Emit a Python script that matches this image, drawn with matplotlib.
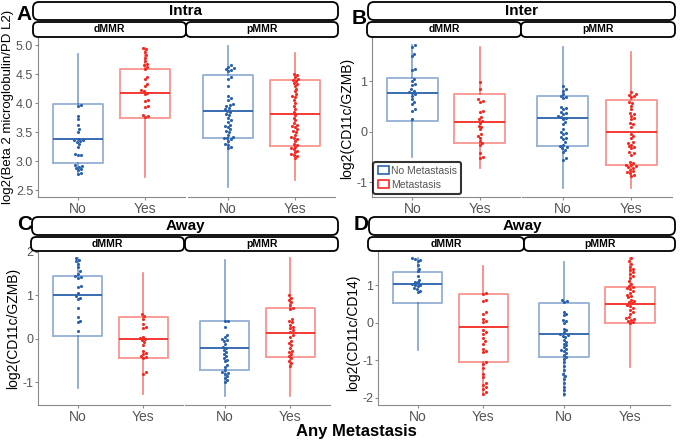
import matplotlib as mpl

mpl.use('Agg')
import matplotlib.pyplot as plt
import numpy as np
from matplotlib.patches import FancyBboxPatch, Patch

plt.rcParams['font.family'] = ['Liberation Sans', 'DejaVu Sans']

BLUE = '#2a62ad'
RED = '#f42a22'
groups = ['No', 'Yes']
facets = ['dMMR', 'pMMR']

# box stats: whisker low, q1, median, q3, whisker high
intra_d_no_box = [2.80, 2.96, 3.38, 3.98, 4.85]
intra_d_yes_box = [2.72, 3.75, 4.18, 4.58, 4.95]
intra_p_no_box = [2.55, 3.40, 3.87, 4.48, 4.98]
intra_p_yes_box = [2.67, 3.26, 3.81, 4.40, 4.87]
inter_d_no_box = [-0.50, 0.22, 0.78, 1.07, 1.72]
inter_d_yes_box = [-0.72, -0.22, 0.20, 0.76, 1.68]
inter_p_no_box = [-1.12, -0.28, 0.28, 0.72, 1.68]
inter_p_yes_box = [-1.12, -0.65, 0.00, 0.64, 1.58]
away_d_no_box = [-1.12, 0.06, 1.00, 1.45, 1.85]
away_d_yes_box = [-1.27, -0.43, 0.00, 0.50, 1.52]
away_p_no_box = [-1.32, -0.71, -0.20, 0.40, 1.82]
away_p_yes_box = [-1.32, -0.41, 0.13, 0.72, 1.85]
cd14_d_no_box = [-0.72, 0.52, 1.04, 1.37, 1.72]
cd14_d_yes_box = [-1.92, -1.05, -0.10, 0.78, 1.52]
cd14_p_no_box = [-1.95, -0.90, -0.30, 0.52, 1.62]
cd14_p_yes_box = [-1.18, 0.00, 0.50, 0.95, 1.72]

# points
intra_d_no = [3.97, 3.95, 3.78, 3.72, 3.62, 3.55, 3.50, 3.38, 3.37, 3.36, 3.35, 3.33, 3.30,
              3.25, 3.12, 3.11, 3.10, 2.93, 2.91, 2.90, 2.88, 2.86, 2.84, 2.80, 2.78]
intra_d_yes = [4.95, 4.93, 4.88, 4.83, 4.78, 4.72, 4.68, 4.65, 4.62, 4.58, 4.45, 4.42, 4.33,
               4.30, 4.22, 4.20, 4.18, 4.15, 4.05, 4.03, 3.95, 3.93, 3.80, 3.78, 3.76]
intra_p_no = [4.65, 4.62, 4.60, 4.58, 4.57, 4.55, 4.45, 4.42, 4.30, 4.12, 4.08, 4.05, 3.98,
              3.97, 3.95, 3.92, 3.90, 3.87, 3.85, 3.82, 3.80, 3.75, 3.70, 3.68, 3.62, 3.60,
              3.58, 3.55, 3.52, 3.50, 3.45, 3.42, 3.40, 3.40, 3.38, 3.35, 3.30, 3.28, 3.25, 3.22]
intra_p_yes = [4.50, 4.48, 4.45, 4.42, 4.40, 4.38, 4.35, 4.33, 4.30, 4.25, 4.20, 4.15, 4.12,
               4.10, 4.05, 4.00, 3.95, 3.90, 3.85, 3.80, 3.75, 3.70, 3.65, 3.62, 3.60, 3.58,
               3.55, 3.52, 3.50, 3.45, 3.42, 3.40, 3.38, 3.35, 3.30, 3.28, 3.25, 3.22, 3.20,
               3.18, 3.15, 3.12, 3.10, 3.08, 3.05]
inter_d_no = [1.72, 1.68, 1.55, 1.50, 1.25, 1.22, 1.05, 1.00, 0.95, 0.92, 0.85, 0.82, 0.80,
              0.78, 0.75, 0.72, 0.65, 0.60, 0.55, 0.45, 0.42, 0.25]
inter_d_yes = [0.98, 0.85, 0.65, 0.62, 0.60, 0.42, 0.40, 0.30, 0.25, 0.22, 0.18, 0.12, 0.10,
               0.05, -0.05, -0.08, -0.12, -0.18, -0.22, -0.25, -0.42, -0.50, -0.52]
inter_p_no = [0.90, 0.85, 0.82, 0.75, 0.72, 0.70, 0.68, 0.50, 0.48, 0.45, 0.40, 0.38, 0.35,
              0.32, 0.30, 0.28, 0.25, 0.20, 0.15, 0.05, 0.00, -0.02, -0.05, -0.10, -0.12,
              -0.15, -0.20, -0.25, -0.28, -0.30, -0.32, -0.35, -0.40, -0.52, -0.55]
inter_p_yes = [0.80, 0.76, 0.74, 0.72, 0.70, 0.60, 0.58, 0.52, 0.45, 0.38, 0.35, 0.32, 0.28,
               0.25, 0.18, 0.15, 0.10, -0.05, -0.08, -0.12, -0.20, -0.22, -0.25, -0.28, -0.30,
               -0.32, -0.40, -0.42, -0.45, -0.60, -0.62, -0.65, -0.66, -0.68, -0.70, -0.72,
               -0.75, -0.78, -0.80, -0.82, -0.85, -0.88]
away_d_no = [1.85, 1.82, 1.78, 1.72, 1.65, 1.55, 1.50, 1.45, 1.42, 1.40, 1.22, 1.20, 1.05,
             0.98, 0.95, 0.92, 0.70, 0.50, 0.42, 0.38, 0.18]
away_d_yes = [0.58, 0.52, 0.45, 0.35, 0.28, 0.25, 0.05, 0.02, 0.00, -0.02, -0.08, -0.15,
              -0.28, -0.32, -0.35, -0.40, -0.42, -0.45, -0.75, -0.80]
away_p_no = [0.42, 0.40, 0.28, 0.10, 0.05, 0.00, -0.02, -0.05, -0.12, -0.18, -0.20, -0.25,
             -0.30, -0.35, -0.40, -0.45, -0.48, -0.52, -0.60, -0.65, -0.72, -0.75, -0.78,
             -0.80, -0.85, -0.90, -0.95, -1.00]
away_p_yes = [1.00, 0.95, 0.90, 0.85, 0.78, 0.72, 0.68, 0.45, 0.42, 0.38, 0.32, 0.28, 0.25,
              0.20, 0.15, 0.10, 0.05, -0.05, -0.10, -0.15, -0.22, -0.28, -0.30, -0.35, -0.40,
              -0.45, -0.50, -0.55, -0.62]
cd14_d_no = [1.72, 1.70, 1.68, 1.65, 1.55, 1.45, 1.38, 1.25, 1.15, 1.10, 1.08, 1.05, 1.02,
             1.00, 0.98, 0.92, 0.90, 0.85, 0.82]
cd14_d_yes = [0.80, 0.78, 0.62, 0.58, 0.30, 0.25, 0.10, 0.05, 0.02, -0.20, -0.25, -0.30,
              -0.40, -0.48, -0.55, -0.70, -0.75, -0.78, -1.05, -1.10, -1.20, -1.35, -1.45,
              -1.60, -1.65, -1.70, -1.75, -1.85, -1.90]
cd14_p_no = [0.62, 0.58, 0.55, 0.30, 0.25, 0.20, 0.08, 0.05, 0.00, -0.15, -0.20, -0.25,
             -0.30, -0.32, -0.35, -0.38, -0.45, -0.50, -0.55, -0.60, -0.65, -0.70, -0.72,
             -0.75, -0.80, -0.85, -0.90, -0.95, -1.05, -1.15, -1.25, -1.35, -1.42, -1.50,
             -1.60, -1.70, -1.80, -1.90]
cd14_p_yes = [1.72, 1.65, 1.58, 1.50, 1.45, 1.40, 1.35, 1.30, 1.25, 1.20, 1.12, 1.05, 0.98,
              0.95, 0.92, 0.90, 0.85, 0.80, 0.75, 0.72, 0.68, 0.62, 0.58, 0.55, 0.52, 0.48,
              0.45, 0.40, 0.35, 0.30, 0.25, 0.15, 0.12, 0.10, 0.08, 0.05, 0.02, 0.00]

W, H = 680, 440
fig = plt.figure(figsize=(W / 100, H / 100), dpi=100)


def px_axes(x0, x1, y0, y1):
    return fig.add_axes([x0 / W, 1 - y1 / H, (x1 - x0) / W, (y1 - y0) / H])


def strip(x0, x1, y0, y1, text, size, r=6):
    box = FancyBboxPatch((x0 / 100, (H - y1) / 100), (x1 - x0) / 100, (y1 - y0) / 100,
                         boxstyle=f"round,pad=0,rounding_size={r / 100}",
                         transform=fig.dpi_scale_trans, facecolor='white',
                         edgecolor='black', lw=1.3, zorder=5)
    fig.patches.append(box)
    fig.text((x0 + x1) / 2 / W, 1 - (y0 + y1) / 2 / H, text, ha='center', va='center',
             fontsize=size, fontweight='bold', zorder=6)


def swarm(ax, xc, vals, d=3.1):
    pts = ax.transData.transform(np.column_stack([np.full(len(vals), xc), vals]))
    cx = pts[0, 0]
    ys = pts[:, 1]
    xs = np.zeros(len(vals))
    placed = []
    for i in np.argsort(ys):
        y = ys[i]
        near = [(a, b) for a, b in placed if abs(b - y) < d]
        cands = [0.0]
        for a, b in near:
            dx = np.sqrt(d * d - (b - y) ** 2)
            cands += [a + dx, a - dx]
        cands.sort(key=abs)
        for c in cands:
            if all((c - a) ** 2 + (y - b) ** 2 >= d * d - 1e-6 for a, b in near):
                break
        placed.append((c, y))
        xs[i] = c
    return ax.transData.inverted().transform(np.column_stack([cx + xs, ys]))[:, 0]


def draw_facet(ax, no_pts, yes_pts, no_box, yes_box, ylim, yticks, fmt, show_y):
    ax.set_xlim(0.4, 2.6)
    ax.set_ylim(*ylim)
    for pos, stats, pts, col in [(1, no_box, no_pts, BLUE), (2, yes_box, yes_pts, RED)]:
        lo, q1, med, q3, hi = stats
        ax.bxp([dict(whislo=lo, q1=q1, med=med, q3=q3, whishi=hi, fliers=[])],
               positions=[pos], widths=0.75, showcaps=False, manage_ticks=False,
               boxprops=dict(color=col, alpha=0.5, lw=1.3),
               whiskerprops=dict(color=col, alpha=0.6, lw=1.2),
               medianprops=dict(color=col, lw=1.3))
        xs = swarm(ax, pos, pts)
        ax.scatter(xs, pts, s=5, color=col, linewidths=0, zorder=3)
    ax.set_xticks([1, 2])
    ax.set_xticklabels(groups)
    for s in ['top', 'right']:
        ax.spines[s].set_visible(False)
    ax.spines['bottom'].set_color('#8a8a8a')
    ax.spines['left'].set_color('#8a8a8a')
    ax.tick_params(axis='x', length=2.5, color='#8a8a8a', labelcolor='#555555', labelsize=10, pad=1)
    if show_y:
        ax.set_yticks(yticks)
        ax.set_yticklabels([fmt % v for v in yticks])
        ax.tick_params(axis='y', length=2.5, color='#8a8a8a', labelcolor='#555555', labelsize=9, pad=1)
    else:
        ax.spines['left'].set_visible(False)
        ax.set_yticks([])


panels = [
    dict(letter='A', lxy=(24, 15), title='Intra', sx=(33, 338), sy=(2, 20), fy=(22, 37),
         fx=[(33, 186), (186, 338)], axx=[(38, 185), (188, 335)], ay=(37, 197),
         ylim=(2.38, 5.14), yticks=[2.5, 3.0, 3.5, 4.0, 4.5, 5.0], fmt='%.1f',
         ylabel='log2(Beta 2 microglobulin/PD L2)', yl=(8, 107), ylsize=9.5,
         data=[(intra_d_no, intra_d_yes, intra_d_no_box, intra_d_yes_box),
               (intra_p_no, intra_p_yes, intra_p_no_box, intra_p_yes_box)]),
    dict(letter='B', lxy=(359, 19), title='Inter', sx=(368, 675), sy=(2, 20), fy=(22, 37),
         fx=[(367, 521), (521, 675)], axx=[(372, 520), (522, 672)], ay=(37, 197),
         ylim=(-1.29, 1.88), yticks=[-1, 0, 1], fmt='%d',
         ylabel='log2(CD11c/GZMB)', yl=(347, 118), ylsize=10,
         data=[(inter_d_no, inter_d_yes, inter_d_no_box, inter_d_yes_box),
               (inter_p_no, inter_p_yes, inter_p_no_box, inter_p_yes_box)]),
    dict(letter='C', lxy=(25, 224), title='Away', sx=(32, 338), sy=(217, 235), fy=(237, 251),
         fx=[(31, 184), (185, 338)], axx=[(38, 183), (185, 330)], ay=(251, 405),
         ylim=(-1.52, 2.02), yticks=[-1, 0, 1, 2], fmt='%d',
         ylabel='log2(CD11c/GZMB)', yl=(13, 328), ylsize=10,
         data=[(away_d_no, away_d_yes, away_d_no_box, away_d_yes_box),
               (away_p_no, away_p_yes, away_p_no_box, away_p_yes_box)]),
    dict(letter='D', lxy=(361, 224), title='Away', sx=(369, 675), sy=(217, 235), fy=(237, 251),
         fx=[(368, 524), (524, 675)], axx=[(378, 523), (524, 670)], ay=(251, 405),
         ylim=(-2.19, 1.92), yticks=[-2, -1, 0, 1], fmt='%d',
         ylabel='log2(CD11c/CD14)', yl=(353, 333), ylsize=10,
         data=[(cd14_d_no, cd14_d_yes, cd14_d_no_box, cd14_d_yes_box),
               (cd14_p_no, cd14_p_yes, cd14_p_no_box, cd14_p_yes_box)]),
]

for p in panels:
    axes = []
    for k, (x0, x1) in enumerate(p['axx']):
        ax = px_axes(x0, x1, *p['ay'])
        no_pts, yes_pts, no_box, yes_box = p['data'][k]
        draw_facet(ax, no_pts, yes_pts, no_box, yes_box, p['ylim'], p['yticks'], p['fmt'], k == 0)
        axes.append(ax)
    strip(*p['sx'], *p['sy'], p['title'], 11)
    for (x0, x1), name in zip(p['fx'], facets):
        strip(x0, x1, *p['fy'], name, 7.5, r=5)
    fig.text(p['lxy'][0] / W, 1 - p['lxy'][1] / H, p['letter'], ha='center', va='center',
             fontsize=15, fontweight='bold')
    fig.text(p['yl'][0] / W, 1 - p['yl'][1] / H, p['ylabel'], rotation=90, ha='center',
             va='center', fontsize=p['ylsize'])
    if p['letter'] == 'B':
        handles = [Patch(facecolor='white', edgecolor=BLUE, lw=1.2),
                   Patch(facecolor='white', edgecolor=RED, lw=1.2)]
        leg = axes[0].legend(handles, ['No Metastasis', 'Metastasis'], loc='lower left',
                             bbox_to_anchor=(0.01, 0.02), fontsize=7.5, frameon=True,
                             fancybox=True, handlelength=1.1, handleheight=0.8,
                             handletextpad=0.2, borderpad=0.4, labelspacing=0.35,
                             labelcolor='#555555', borderaxespad=0)
        leg.get_frame().set_edgecolor('black')
        leg.get_frame().set_linewidth(1.5)

fig.text(356 / W, 1 - 431 / H, 'Any Metastasis', ha='center', va='center',
         fontsize=12, fontweight='bold')

fig.savefig('out.png', dpi=100)
